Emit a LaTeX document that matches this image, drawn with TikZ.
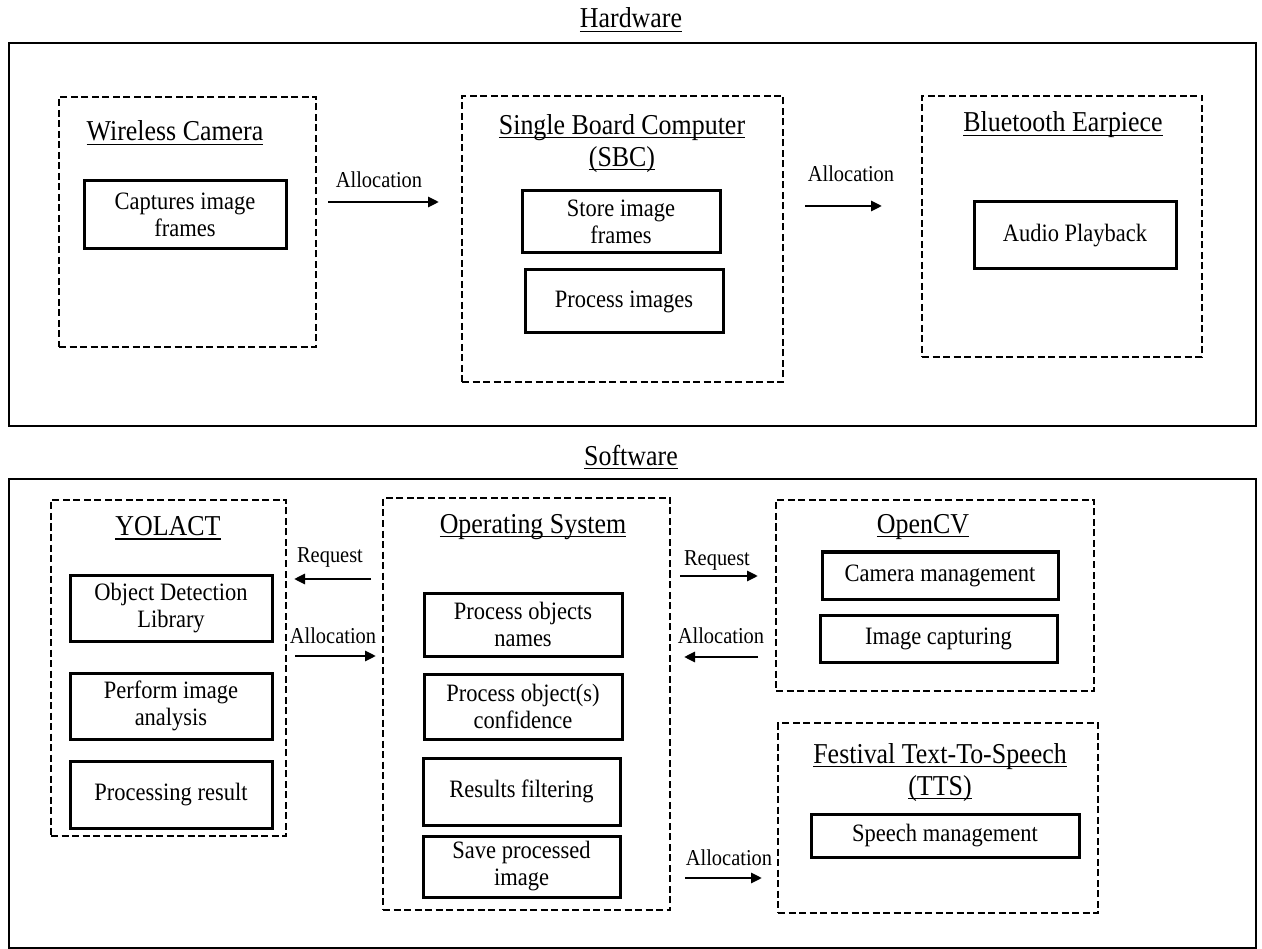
\documentclass[tikz,border=0pt]{standalone}
\usepackage{fontspec}
\setmainfont{Liberation Serif}[FakeStretch=0.9]
\newcommand{\ulx}[1]{\setbox0\hbox{#1}\rlap{\rule[-4pt]{\wd0}{1.4pt}}\box0}
\usetikzlibrary{arrows.meta}
\tikzset{
  outer/.style={draw, line width=2.6pt, inner sep=0pt},
  grp/.style={draw, line width=2.4pt, dash pattern=on 7pt off 3.5pt, inner sep=0pt},
  ibox/.style={draw, line width=3pt, align=center, inner sep=0pt, font=\fontsize{25}{27}\selectfont},
  ttl/.style={align=center, inner sep=0pt, font=\fontsize{28.8}{32}\selectfont},
  lbl/.style={inner sep=0pt, font=\fontsize{22.7}{24}\selectfont},
  arr/.style={line width=2.8pt, -{Triangle[length=11pt,width=10pt]}},
}
\begin{document}
\begin{tikzpicture}[x=1pt,y=-1pt]
\useasboundingbox (0,0) rectangle (1262,949);
% ---------------- Hardware ----------------
\node[ttl] (hwt) at (631,20) {\ulx{Hardware}};
\node[outer, minimum width=1247pt, minimum height=383pt] (hw) at (632.5,234.5) {};

\node[grp, minimum width=257pt, minimum height=250pt] (wc) at (187.5,222) {};
\node[ttl] (wct) at (175,133) {\ulx{Wireless Camera}};
\node[ibox, minimum width=202pt, minimum height=68pt] (cap) at (185,215) {Captures image\\frames};

\coordinate (a1s) at (328,202);
\coordinate (a1e) at (439,202);
\draw[arr] (a1s) -- (a1e);
\node[lbl] (a1l) at (379,180) {Allocation};

\node[grp, minimum width=321pt, minimum height=286pt] (sbc) at (622.5,239) {};
\node[ttl] (sbct) at (622,143.5) {\ulx{Single Board Computer}\\\ulx{(SBC)}};
\node[ibox, minimum width=198pt, minimum height=62pt] (store) at (621,222) {Store image\\frames};
\node[ibox, minimum width=198pt, minimum height=63pt] (proc) at (624,301.5) {Process images};

\coordinate (a2s) at (805,206);
\coordinate (a2e) at (882,206);
\draw[arr] (a2s) -- (a2e);
\node[lbl] (a2l) at (851,174) {Allocation};

\node[grp, minimum width=280pt, minimum height=261pt] (bt) at (1062,226.5) {};
\node[ttl] (btt) at (1063,125) {\ulx{Bluetooth Earpiece}};
\node[ibox, minimum width=202pt, minimum height=67pt] (audio) at (1075,235.5) {Audio Playback};

% ---------------- Software ----------------
\node[ttl] (swt) at (631,457) {\ulx{Software}};
\node[outer, minimum width=1247pt, minimum height=469pt] (sw) at (632.5,713.5) {};

\node[grp, minimum width=235pt, minimum height=336pt] (yo) at (168.5,668) {};
\node[ttl] (yot) at (168,528) {\ulx{YOLACT}};
\node[ibox, minimum width=202pt, minimum height=66pt] (y1) at (171,608) {Object Detection\\Library};
\node[ibox, minimum width=202pt, minimum height=66pt] (y2) at (171,706) {Perform image\\analysis};
\node[ibox, minimum width=202pt, minimum height=67pt] (y3) at (171,794.5) {Processing result};

\coordinate (r1s) at (371,579);
\coordinate (r1e) at (294,579);
\draw[arr] (r1s) -- (r1e);
\node[lbl] (r1l) at (330,557) {Request};
\coordinate (b1s) at (295,656);
\coordinate (b1e) at (376,656);
\draw[arr] (b1s) -- (b1e);
\node[lbl] (b1l) at (333,636) {Allocation};

\node[grp, minimum width=287pt, minimum height=412pt] (os) at (526.5,704) {};
\node[ttl] (ost) at (533,527) {\ulx{Operating System}};
\node[ibox, minimum width=198pt, minimum height=63pt] (o1) at (523,624.5) {Process objects\\names};
\node[ibox, minimum width=198pt, minimum height=65pt] (o2) at (523,706.5) {Process object(s)\\confidence};
\node[ibox, minimum width=197pt, minimum height=67pt] (o3) at (521.5,791.5) {Results filtering};
\node[ibox, minimum width=197pt, minimum height=61pt] (o4) at (521.5,866.5) {Save processed\\image};

\coordinate (r2s) at (680,576);
\coordinate (r2e) at (758,576);
\draw[arr] (r2s) -- (r2e);
\node[lbl] (r2l) at (717,560) {Request};
\coordinate (b2s) at (758,657);
\coordinate (b2e) at (684,657);
\draw[arr] (b2s) -- (b2e);
\node[lbl] (b2l) at (721,636) {Allocation};

\node[grp, minimum width=318pt, minimum height=191pt] (cv) at (935,595.5) {};
\node[ttl] (cvt) at (923,527) {\ulx{OpenCV}};
\node[ibox, minimum width=236pt, minimum height=47pt] (c1) at (940,575.5) {Camera management};
\node[ibox, minimum width=237pt, minimum height=47pt] (c2) at (938.5,638.5) {Image capturing};

\node[grp, minimum width=320pt, minimum height=190pt] (tts) at (938,818) {};
\node[ttl] (ttst) at (940,772.5) {\ulx{Festival Text-To-Speech}\\\ulx{(TTS)}};
\node[ibox, minimum width=268pt, minimum height=43pt] (sp) at (945,835.5) {Speech management};

\coordinate (b3s) at (685,878);
\coordinate (b3e) at (762,878);
\draw[arr] (b3s) -- (b3e);
\node[lbl] (b3l) at (729,858) {Allocation};
\end{tikzpicture}
\end{document}
